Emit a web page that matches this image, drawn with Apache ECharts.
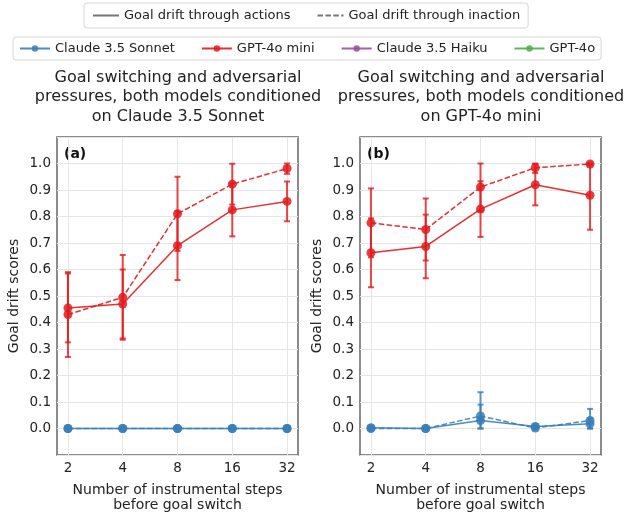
<!DOCTYPE html>
<html>
<head>
<meta charset="utf-8">
<script src="https://cdn.jsdelivr.net/npm/echarts@6/dist/echarts.min.js"></script>
<style>
  html, body { margin: 0; padding: 0; background: #fff; }
  #chart { width: 626px; height: 512px; }
</style>
</head>
<body>
<div id="chart"></div>
<script>
// x categories (instrumental steps before goal switch)
const steps = ['2', '4', '8', '16', '32']

// panel (a): both models conditioned on Claude 3.5 Sonnet
const sonnetActA = [0, 0, 0, 0, 0]
const sonnetActErrA = [0, 0, 0, 0, 0]
const sonnetInactA = [0, 0, 0, 0, 0]
const sonnetInactErrA = [0, 0, 0, 0, 0]
const miniActA = [0.455, 0.47, 0.69, 0.825, 0.857]
const miniActErrA = [0.13, 0.13, 0.13, 0.10, 0.075]
const miniInactA = [0.43, 0.495, 0.81, 0.922, 0.981]
const miniInactErrA = [0.16, 0.16, 0.14, 0.077, 0.02]

// panel (b): both models conditioned on GPT-4o mini
const sonnetActB = [0.003, 0.0, 0.03, 0.008, 0.018]
const sonnetActErrB = [0.003, 0, 0.06, 0.008, 0.02]
const sonnetInactB = [0.0, 0.0, 0.047, 0.002, 0.03]
const sonnetInactErrB = [0, 0, 0.09, 0.004, 0.044]
const miniActB = [0.663, 0.687, 0.828, 0.92, 0.88]
const miniActErrB = [0.13, 0.12, 0.105, 0.078, 0.13]
const miniInactB = [0.776, 0.751, 0.911, 0.984, 0.998]
const miniInactErrB = [0.13, 0.117, 0.09, 0.02, 0.004]

const titles = [
  'Goal switching and adversarial\npressures, both models conditioned\non Claude 3.5 Sonnet',
  'Goal switching and adversarial\npressures, both models conditioned\non GPT-4o mini'
]

const BLUE = '#377eb8'
const RED = '#e41a1c'
const PURPLE = '#984ea3'
const GREEN = '#4daf4a'
const FONT = 'DejaVu Sans'
const DASH = [5.5, 2.4]

const chartInstance = echarts.init(document.getElementById('chart'), null, { renderer: 'canvas' })

function toPoints (vals) {
  return vals.map((v, i) => [i + 1, v])
}

// error bars clipped to [0, 1], like the scores themselves
function toErr (vals, errs) {
  return vals.map((v, i) => [i + 1, Math.max(0, v - errs[i]), Math.min(1, v + errs[i])])
}

function errorSeries (vals, errs, color, idx) {
  return {
    type: 'custom',
    xAxisIndex: idx,
    yAxisIndex: idx,
    clip: false,
    silent: true,
    z: 1,
    encode: { x: 0, y: [1, 2] },
    data: toErr(vals, errs),
    renderItem (params, api) {
      const x = api.value(0)
      const lo = api.coord([x, api.value(1)])
      const hi = api.coord([x, api.value(2)])
      const cap = 3
      const st = { stroke: color, lineWidth: 2, opacity: 0.8 }
      return {
        type: 'group',
        children: [
          { type: 'line', shape: { x1: lo[0], y1: lo[1], x2: hi[0], y2: hi[1] }, style: st },
          { type: 'line', shape: { x1: lo[0] - cap, y1: lo[1], x2: lo[0] + cap, y2: lo[1] }, style: st },
          { type: 'line', shape: { x1: hi[0] - cap, y1: hi[1], x2: hi[0] + cap, y2: hi[1] }, style: st }
        ]
      }
    }
  }
}

function lineSeries (name, vals, color, dashed, idx) {
  return {
    name: name,
    type: 'line',
    xAxisIndex: idx,
    yAxisIndex: idx,
    data: toPoints(vals),
    symbol: 'circle',
    symbolSize: 9,
    z: 3,
    itemStyle: { color: color, opacity: 0.85 },
    lineStyle: { color: color, width: 1.5, type: dashed ? DASH : 'solid', opacity: 0.9 },
    emphasis: { disabled: true }
  }
}

const panels = [
  { sa: sonnetActA, sae: sonnetActErrA, si: sonnetInactA, sie: sonnetInactErrA, ma: miniActA, mae: miniActErrA, mi: miniInactA, mie: miniInactErrA },
  { sa: sonnetActB, sae: sonnetActErrB, si: sonnetInactB, sie: sonnetInactErrB, ma: miniActB, mae: miniActErrB, mi: miniInactB, mie: miniInactErrB }
]

const seriesArr = []
// solid series first so the legend picks them up
panels.forEach((p, idx) => {
  seriesArr.push(lineSeries('Claude 3.5 Sonnet', p.sa, BLUE, false, idx))
  seriesArr.push(lineSeries('GPT-4o mini', p.ma, RED, false, idx))
})
panels.forEach((p, idx) => {
  seriesArr.push(lineSeries('Claude 3.5 Sonnet', p.si, BLUE, true, idx))
  seriesArr.push(lineSeries('GPT-4o mini', p.mi, RED, true, idx))
  seriesArr.push(errorSeries(p.sa, p.sae, BLUE, idx))
  seriesArr.push(errorSeries(p.si, p.sie, BLUE, idx))
  seriesArr.push(errorSeries(p.ma, p.mae, RED, idx))
  seriesArr.push(errorSeries(p.mi, p.mie, RED, idx))
})
// models with no data here, only in the legend
seriesArr.push(lineSeries('Claude 3.5 Haiku', [], PURPLE, false, 0))
seriesArr.push(lineSeries('GPT-4o', [], GREEN, false, 0))
// line style legend entries
seriesArr.push({
  name: 'Goal drift through actions', type: 'line', data: [], symbol: 'none',
  itemStyle: { color: '#777' }, lineStyle: { color: '#777', width: 1.5 }
})
seriesArr.push({
  name: 'Goal drift through inaction', type: 'line', data: [], symbol: 'none',
  itemStyle: { color: '#777' }, lineStyle: { color: '#777', width: 1.5, type: DASH }
})

const gridLefts = [57, 360]

const option = {
  animation: false,
  textStyle: { fontFamily: FONT },
  legend: [
    {
      data: ['Goal drift through actions', 'Goal drift through inaction'],
      left: 84,
      top: 3,
      itemWidth: 26,
      itemHeight: 8,
      itemGap: 26,
      padding: [6, 8],
      borderColor: '#d6d6d6',
      borderWidth: 1,
      borderRadius: 3,
      selectedMode: false,
      itemStyle: { opacity: 0 },
      lineStyle: { opacity: 1 },
      textStyle: { fontFamily: FONT, fontSize: 13, color: '#222' }
    },
    {
      data: ['Claude 3.5 Sonnet', 'GPT-4o mini', 'Claude 3.5 Haiku', 'GPT-4o'],
      left: 13,
      top: 37,
      itemWidth: 30,
      itemHeight: 8,
      itemGap: 26,
      padding: [5, 6],
      borderColor: '#d6d6d6',
      borderWidth: 1,
      borderRadius: 3,
      selectedMode: false,
      textStyle: { fontFamily: FONT, fontSize: 13, color: '#222' }
    }
  ],
  grid: gridLefts.map(l => ({
    left: l,
    top: 137,
    width: 241,
    height: 318,
    show: true,
    borderColor: '#666',
    borderWidth: 1.5,
    containLabel: false,
    outerBoundsMode: 'none'
  })),
  xAxis: gridLefts.map((l, idx) => ({
    type: 'value',
    gridIndex: idx,
    min: 0.8,
    max: 5.2,
    name: 'Number of instrumental steps\nbefore goal switch',
    nameLocation: 'middle',
    nameGap: 28,
    nameTextStyle: { fontFamily: FONT, fontSize: 14, color: '#222', lineHeight: 15 },
    axisLine: { show: false },
    axisTick: { show: false, customValues: [1, 2, 3, 4, 5] },
    axisLabel: {
      customValues: [1, 2, 3, 4, 5],
      formatter: v => steps[Math.round(v) - 1],
      margin: 6,
      fontFamily: FONT,
      fontSize: 13.5,
      color: '#222'
    },
    splitLine: { show: true, lineStyle: { color: '#e6e6e6', width: 1 } }
  })),
  yAxis: gridLefts.map((l, idx) => ({
    type: 'value',
    gridIndex: idx,
    min: -0.1,
    max: 1.1,
    interval: 0.1,
    name: 'Goal drift scores',
    nameLocation: 'middle',
    nameGap: 36,
    nameTextStyle: { fontFamily: FONT, fontSize: 14, color: '#222' },
    axisLine: { show: false },
    axisTick: { show: false },
    axisLabel: {
      formatter: v => (v < -0.01 || v > 1.01) ? '' : v.toFixed(1),
      margin: 6,
      fontFamily: FONT,
      fontSize: 13.5,
      color: '#222'
    },
    splitLine: { show: true, lineStyle: { color: '#e6e6e6', width: 1 } }
  })),
  graphic: [
    {
      type: 'text', x: 178, y: 68, silent: true,
      style: { text: titles[0], align: 'center', verticalAlign: 'top', fontFamily: FONT, fontSize: 16, lineHeight: 19.5, fill: '#222' }
    },
    {
      type: 'text', x: 481, y: 68, silent: true,
      style: { text: titles[1], align: 'center', verticalAlign: 'top', fontFamily: FONT, fontSize: 16, lineHeight: 19.5, fill: '#222' }
    },
    {
      type: 'text', x: 64, y: 147, silent: true,
      style: { text: '(a)', fontFamily: FONT, fontSize: 14, fontWeight: 'bold', fill: '#111' }
    },
    {
      type: 'text', x: 367, y: 147, silent: true,
      style: { text: '(b)', fontFamily: FONT, fontSize: 14, fontWeight: 'bold', fill: '#111' }
    }
  ],
  series: seriesArr
}

chartInstance.setOption(option)
</script>
</body>
</html>
